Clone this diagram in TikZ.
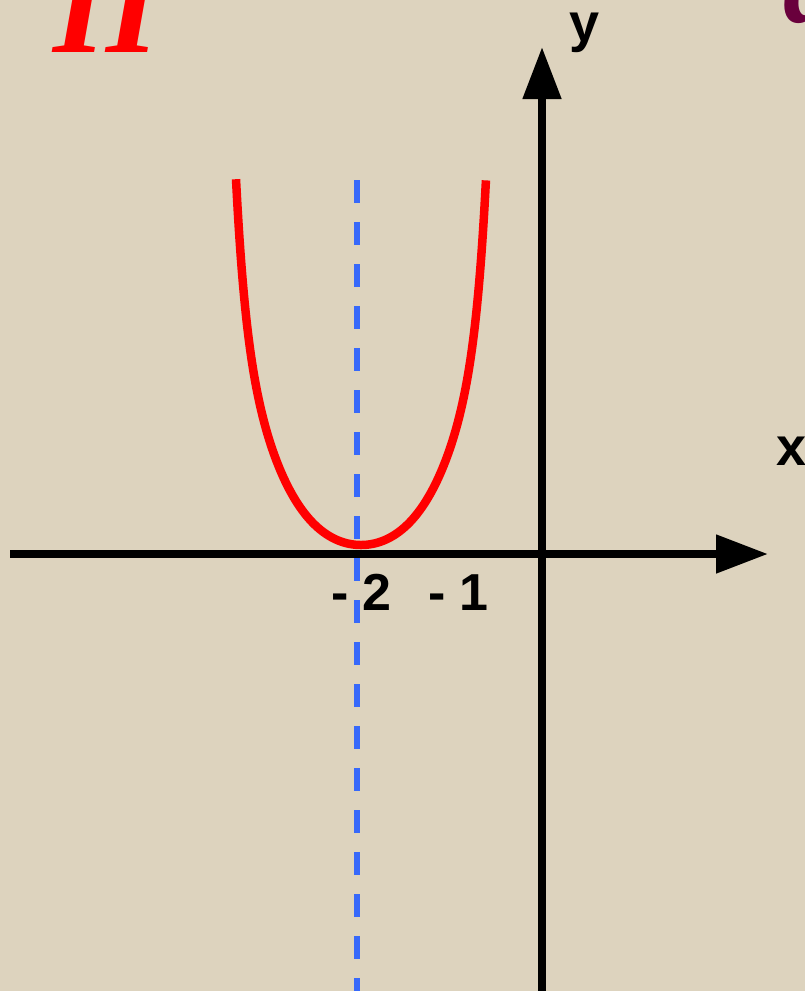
\documentclass[tikz,border=0pt]{standalone}
\usepackage{fontspec}
\setmainfont{Liberation Sans}
\newfontfamily\serifbi{Liberation Serif}
\usetikzlibrary{arrows.meta}
\definecolor{bgbeige}{RGB}{221,211,190}
\definecolor{curvered}{RGB}{255,0,0}
\definecolor{axisblue}{RGB}{55,105,250}
\definecolor{plum}{RGB}{105,0,60}
\tikzset{
  axisline/.style={line width=8pt, black, -{Triangle[length=52pt,width=37pt]}},
  lbl/.style={font=\fontsize{52}{52}\selectfont\bfseries, inner sep=0pt, anchor=base west},
  axlbl/.style={font=\fontsize{54}{54}\selectfont\bfseries, inner sep=0pt, anchor=base west},
  symline/.style={line width=6pt, axisblue, dash pattern=on 23pt off 19pt},
  graph/.style={line width=8.5pt, curvered, line join=round}
}
\begin{document}
\begin{tikzpicture}[x=1pt,y=-1pt]
\useasboundingbox (0,0) rectangle (805,991);
\clip (0,0) rectangle (805,991);
\fill[bgbeige] (0,0) rectangle (805,991);
% title fragments
\node[font=\fontsize{136}{136}\selectfont\serifbi\bfseries\itshape, text=curvered, inner sep=0pt, anchor=base west] (title) at (53,52) {II};
\node[font=\fontsize{110}{110}\selectfont\serifbi\bfseries\itshape, text=plum, inner sep=0pt, anchor=base west] (cut) at (783,22) {a};
% symmetry line
\coordinate (stop) at (357,180);
\coordinate (sbot) at (357,991);
\draw[symline] (stop) -- (sbot);
% axes
\coordinate (xs) at (10,554);
\coordinate (xe) at (768,554);
\coordinate (ys) at (542,991);
\coordinate (ye) at (542,47);
\draw[axisline] (xs) -- (xe);
\draw[axisline] (ys) -- (ye);
% curve
\draw[graph] plot[domain=-1:1, samples=161, smooth]
  ({361+125*\x}, {545-132.8*\x*\x-110*(\x*\x)^2-123*(\x*\x)^7});
% labels
\node[axlbl] (ylab) at (569,41) {y};
\node[axlbl] (xlab) at (776,465) {x};
\node[lbl] (m2) at (331,610) {- 2};
\node[lbl] (m1) at (428,610) {- 1};
\end{tikzpicture}
\end{document}
